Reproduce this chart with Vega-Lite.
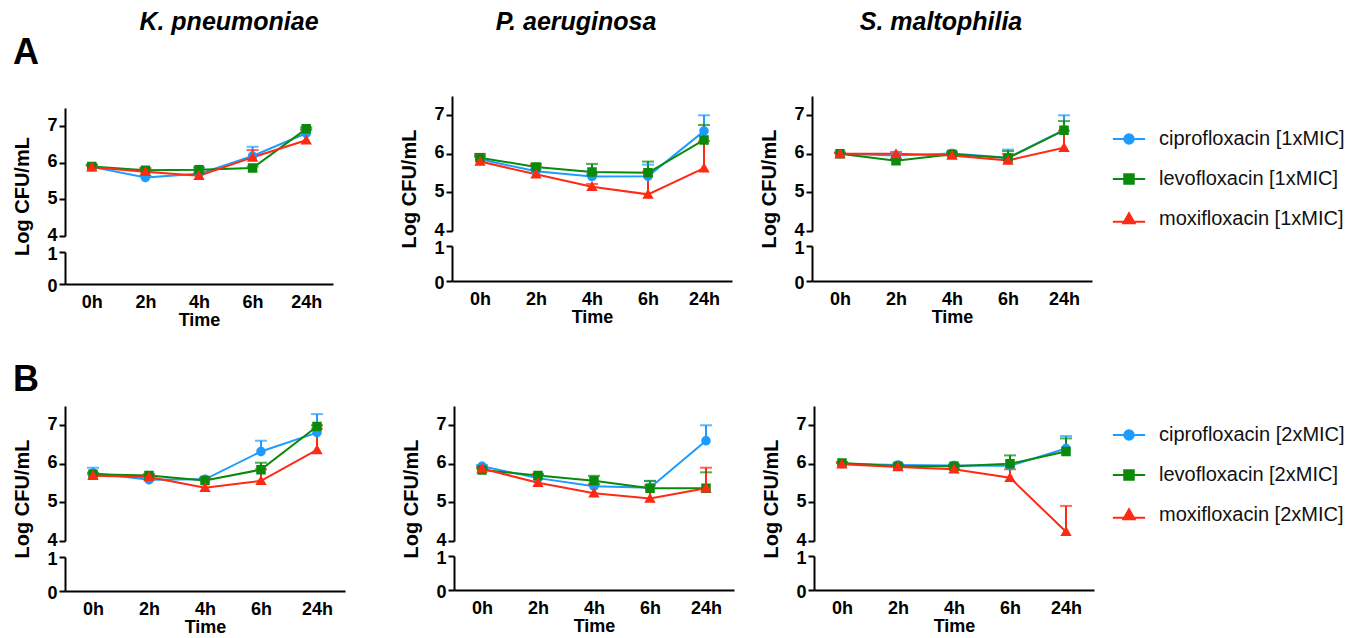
{
"$schema": "https://vega.github.io/schema/vega-lite/v6.json",
"padding": {"left": 12, "top": 10, "right": 0, "bottom": 0},
"background": "white",
"datasets": {"d": [
{"r":"A","org":"K","time":"0h","drug":"ciprofloxacin [1xMIC]","mean":5.89,"hi":5.95},
{"r":"A","org":"K","time":"2h","drug":"ciprofloxacin [1xMIC]","mean":5.60,"hi":5.65},
{"r":"A","org":"K","time":"4h","drug":"ciprofloxacin [1xMIC]","mean":5.70,"hi":5.76},
{"r":"A","org":"K","time":"6h","drug":"ciprofloxacin [1xMIC]","mean":6.19,"hi":6.44},
{"r":"A","org":"K","time":"24h","drug":"ciprofloxacin [1xMIC]","mean":6.81,"hi":6.92},
{"r":"A","org":"K","time":"0h","drug":"levofloxacin [1xMIC]","mean":5.90,"hi":5.95},
{"r":"A","org":"K","time":"2h","drug":"levofloxacin [1xMIC]","mean":5.80,"hi":5.86},
{"r":"A","org":"K","time":"4h","drug":"levofloxacin [1xMIC]","mean":5.81,"hi":5.87},
{"r":"A","org":"K","time":"6h","drug":"levofloxacin [1xMIC]","mean":5.86,"hi":5.90},
{"r":"A","org":"K","time":"24h","drug":"levofloxacin [1xMIC]","mean":6.93,"hi":6.97},
{"r":"A","org":"K","time":"0h","drug":"moxifloxacin [1xMIC]","mean":5.88,"hi":5.92},
{"r":"A","org":"K","time":"2h","drug":"moxifloxacin [1xMIC]","mean":5.76,"hi":5.82},
{"r":"A","org":"K","time":"4h","drug":"moxifloxacin [1xMIC]","mean":5.65,"hi":5.70},
{"r":"A","org":"K","time":"6h","drug":"moxifloxacin [1xMIC]","mean":6.15,"hi":6.35},
{"r":"A","org":"K","time":"24h","drug":"moxifloxacin [1xMIC]","mean":6.62,"hi":6.90},
{"r":"A","org":"P","time":"0h","drug":"ciprofloxacin [1xMIC]","mean":5.86,"hi":5.92},
{"r":"A","org":"P","time":"2h","drug":"ciprofloxacin [1xMIC]","mean":5.55,"hi":5.62},
{"r":"A","org":"P","time":"4h","drug":"ciprofloxacin [1xMIC]","mean":5.41,"hi":5.48},
{"r":"A","org":"P","time":"6h","drug":"ciprofloxacin [1xMIC]","mean":5.42,"hi":5.72},
{"r":"A","org":"P","time":"24h","drug":"ciprofloxacin [1xMIC]","mean":6.59,"hi":7.00},
{"r":"A","org":"P","time":"0h","drug":"levofloxacin [1xMIC]","mean":5.90,"hi":5.95},
{"r":"A","org":"P","time":"2h","drug":"levofloxacin [1xMIC]","mean":5.66,"hi":5.74},
{"r":"A","org":"P","time":"4h","drug":"levofloxacin [1xMIC]","mean":5.53,"hi":5.74},
{"r":"A","org":"P","time":"6h","drug":"levofloxacin [1xMIC]","mean":5.51,"hi":5.80},
{"r":"A","org":"P","time":"24h","drug":"levofloxacin [1xMIC]","mean":6.36,"hi":6.75},
{"r":"A","org":"P","time":"0h","drug":"moxifloxacin [1xMIC]","mean":5.80,"hi":6.00},
{"r":"A","org":"P","time":"2h","drug":"moxifloxacin [1xMIC]","mean":5.47,"hi":5.70},
{"r":"A","org":"P","time":"4h","drug":"moxifloxacin [1xMIC]","mean":5.15,"hi":5.22},
{"r":"A","org":"P","time":"6h","drug":"moxifloxacin [1xMIC]","mean":4.95,"hi":5.54},
{"r":"A","org":"P","time":"24h","drug":"moxifloxacin [1xMIC]","mean":5.63,"hi":6.33},
{"r":"A","org":"S","time":"0h","drug":"ciprofloxacin [1xMIC]","mean":6.00,"hi":6.03},
{"r":"A","org":"S","time":"2h","drug":"ciprofloxacin [1xMIC]","mean":5.96,"hi":6.00},
{"r":"A","org":"S","time":"4h","drug":"ciprofloxacin [1xMIC]","mean":6.01,"hi":6.06},
{"r":"A","org":"S","time":"6h","drug":"ciprofloxacin [1xMIC]","mean":5.90,"hi":6.11},
{"r":"A","org":"S","time":"24h","drug":"ciprofloxacin [1xMIC]","mean":6.62,"hi":7.00},
{"r":"A","org":"S","time":"0h","drug":"levofloxacin [1xMIC]","mean":6.00,"hi":6.03},
{"r":"A","org":"S","time":"2h","drug":"levofloxacin [1xMIC]","mean":5.82,"hi":5.87},
{"r":"A","org":"S","time":"4h","drug":"levofloxacin [1xMIC]","mean":5.99,"hi":6.03},
{"r":"A","org":"S","time":"6h","drug":"levofloxacin [1xMIC]","mean":5.89,"hi":6.07},
{"r":"A","org":"S","time":"24h","drug":"levofloxacin [1xMIC]","mean":6.61,"hi":6.85},
{"r":"A","org":"S","time":"0h","drug":"moxifloxacin [1xMIC]","mean":6.00,"hi":6.03},
{"r":"A","org":"S","time":"2h","drug":"moxifloxacin [1xMIC]","mean":6.00,"hi":6.05},
{"r":"A","org":"S","time":"4h","drug":"moxifloxacin [1xMIC]","mean":5.96,"hi":6.00},
{"r":"A","org":"S","time":"6h","drug":"moxifloxacin [1xMIC]","mean":5.83,"hi":5.99},
{"r":"A","org":"S","time":"24h","drug":"moxifloxacin [1xMIC]","mean":6.16,"hi":6.60},
{"r":"B","org":"K","time":"0h","drug":"ciprofloxacin [2xMIC]","mean":5.76,"hi":5.90},
{"r":"B","org":"K","time":"2h","drug":"ciprofloxacin [2xMIC]","mean":5.59,"hi":5.64},
{"r":"B","org":"K","time":"4h","drug":"ciprofloxacin [2xMIC]","mean":5.60,"hi":5.64},
{"r":"B","org":"K","time":"6h","drug":"ciprofloxacin [2xMIC]","mean":6.32,"hi":6.60},
{"r":"B","org":"K","time":"24h","drug":"ciprofloxacin [2xMIC]","mean":6.81,"hi":7.29},
{"r":"B","org":"K","time":"0h","drug":"levofloxacin [2xMIC]","mean":5.73,"hi":5.77},
{"r":"B","org":"K","time":"2h","drug":"levofloxacin [2xMIC]","mean":5.70,"hi":5.74},
{"r":"B","org":"K","time":"4h","drug":"levofloxacin [2xMIC]","mean":5.57,"hi":5.61},
{"r":"B","org":"K","time":"6h","drug":"levofloxacin [2xMIC]","mean":5.85,"hi":6.03},
{"r":"B","org":"K","time":"24h","drug":"levofloxacin [2xMIC]","mean":6.97,"hi":7.00},
{"r":"B","org":"K","time":"0h","drug":"moxifloxacin [2xMIC]","mean":5.69,"hi":5.73},
{"r":"B","org":"K","time":"2h","drug":"moxifloxacin [2xMIC]","mean":5.66,"hi":5.70},
{"r":"B","org":"K","time":"4h","drug":"moxifloxacin [2xMIC]","mean":5.38,"hi":5.62},
{"r":"B","org":"K","time":"6h","drug":"moxifloxacin [2xMIC]","mean":5.56,"hi":5.86},
{"r":"B","org":"K","time":"24h","drug":"moxifloxacin [2xMIC]","mean":6.36,"hi":6.91},
{"r":"B","org":"P","time":"0h","drug":"ciprofloxacin [2xMIC]","mean":5.94,"hi":5.97},
{"r":"B","org":"P","time":"2h","drug":"ciprofloxacin [2xMIC]","mean":5.63,"hi":5.68},
{"r":"B","org":"P","time":"4h","drug":"ciprofloxacin [2xMIC]","mean":5.42,"hi":5.47},
{"r":"B","org":"P","time":"6h","drug":"ciprofloxacin [2xMIC]","mean":5.38,"hi":5.55},
{"r":"B","org":"P","time":"24h","drug":"ciprofloxacin [2xMIC]","mean":6.60,"hi":7.00},
{"r":"B","org":"P","time":"0h","drug":"levofloxacin [2xMIC]","mean":5.84,"hi":5.88},
{"r":"B","org":"P","time":"2h","drug":"levofloxacin [2xMIC]","mean":5.70,"hi":5.74},
{"r":"B","org":"P","time":"4h","drug":"levofloxacin [2xMIC]","mean":5.56,"hi":5.69},
{"r":"B","org":"P","time":"6h","drug":"levofloxacin [2xMIC]","mean":5.37,"hi":5.56},
{"r":"B","org":"P","time":"24h","drug":"levofloxacin [2xMIC]","mean":5.37,"hi":5.78},
{"r":"B","org":"P","time":"0h","drug":"moxifloxacin [2xMIC]","mean":5.88,"hi":5.92},
{"r":"B","org":"P","time":"2h","drug":"moxifloxacin [2xMIC]","mean":5.51,"hi":5.72},
{"r":"B","org":"P","time":"4h","drug":"moxifloxacin [2xMIC]","mean":5.24,"hi":5.47},
{"r":"B","org":"P","time":"6h","drug":"moxifloxacin [2xMIC]","mean":5.10,"hi":5.44},
{"r":"B","org":"P","time":"24h","drug":"moxifloxacin [2xMIC]","mean":5.37,"hi":5.90},
{"r":"B","org":"S","time":"0h","drug":"ciprofloxacin [2xMIC]","mean":6.00,"hi":6.03},
{"r":"B","org":"S","time":"2h","drug":"ciprofloxacin [2xMIC]","mean":5.97,"hi":6.00},
{"r":"B","org":"S","time":"4h","drug":"ciprofloxacin [2xMIC]","mean":5.96,"hi":5.99},
{"r":"B","org":"S","time":"6h","drug":"ciprofloxacin [2xMIC]","mean":5.95,"hi":5.99},
{"r":"B","org":"S","time":"24h","drug":"ciprofloxacin [2xMIC]","mean":6.40,"hi":6.72},
{"r":"B","org":"S","time":"0h","drug":"levofloxacin [2xMIC]","mean":6.02,"hi":6.05},
{"r":"B","org":"S","time":"2h","drug":"levofloxacin [2xMIC]","mean":5.94,"hi":5.97},
{"r":"B","org":"S","time":"4h","drug":"levofloxacin [2xMIC]","mean":5.94,"hi":5.97},
{"r":"B","org":"S","time":"6h","drug":"levofloxacin [2xMIC]","mean":6.00,"hi":6.22},
{"r":"B","org":"S","time":"24h","drug":"levofloxacin [2xMIC]","mean":6.32,"hi":6.66},
{"r":"B","org":"S","time":"0h","drug":"moxifloxacin [2xMIC]","mean":5.99,"hi":6.02},
{"r":"B","org":"S","time":"2h","drug":"moxifloxacin [2xMIC]","mean":5.92,"hi":5.95},
{"r":"B","org":"S","time":"4h","drug":"moxifloxacin [2xMIC]","mean":5.86,"hi":5.89},
{"r":"B","org":"S","time":"6h","drug":"moxifloxacin [2xMIC]","mean":5.64,"hi":5.86},
{"r":"B","org":"S","time":"24h","drug":"moxifloxacin [2xMIC]","mean":4.24,"hi":4.91}
]},
"data": {"name": "d"},
"config": {
  "font": "Liberation Sans",
  "view": {"stroke": null},
  "axis": {"domainColor": "#000", "domainWidth": 2, "tickColor": "#000", "tickWidth": 2, "tickSize": 6, "labelColor": "#000", "labelFont": "Liberation Sans", "labelFontSize": 18, "labelFontWeight": "bold", "titleColor": "#000", "titleFont": "Liberation Sans", "titleFontSize": 20, "titleFontWeight": "bold", "grid": false},
  "axisX": {"ticks": false, "labelPadding": 9, "titleFontSize": 18, "titlePadding": 0, "labelAngle": 0},
  "axisY": {"titlePadding": 14, "labelPadding": 2},
  "title": {"font": "Liberation Sans", "color": "#000"}
},
"resolve": {"scale": {"fill": "independent", "stroke": "independent", "shape": "independent"}, "legend": {"fill": "independent", "stroke": "independent", "shape": "independent"}},
"spacing": 33,
"vconcat": [
{
 "title": {"text": "A", "anchor": "start", "frame": "bounds", "fontSize": 36, "fontWeight": "bold", "offset": 0, "dy": 62},
 "spacing": 66,
 "hconcat": [
  {
   "title": {"text": "K. pneumoniae", "fontSize": 25, "fontStyle": "italic", "fontWeight": "bold", "anchor": "middle", "frame": "bounds", "dx": 56, "offset": 61},
   "bounds": "flush", "spacing": 11,
   "vconcat": [
    {"width": 268, "height": 1, "transform": [{"filter": "false"}], "mark": {"type": "point"}, "encoding": {}},
    {
     "bounds": "flush", "spacing": 16,
     "vconcat": [
      {"width": 268, "height": 128,
       "transform": [{"filter": "datum.r == 'A' && datum.org == 'K'"}],
       "encoding": {
         "x": {"field": "time", "type": "ordinal", "scale": {"type": "point", "domain": ["0h","2h","4h","6h","24h"], "padding": 0.5}, "axis": null},
         "y": {"field": "mean", "type": "quantitative", "title": "Log CFU/mL", "scale": {"domain": [4, 7.5], "nice": false, "zero": false}, "axis": {"values": [4,5,6,7], "format": "d", "labelOffset": -1, "titleY": 88}}
       },
       "layer": [
         {"transform": [{"filter": "false"}], "mark": {"type": "point", "filled": true, "size": 90, "opacity": 1, "strokeWidth": 2},
          "encoding": {
            "fill": {"field": "drug", "type": "nominal", "scale": {"domain": ["ciprofloxacin [1xMIC]","levofloxacin [1xMIC]","moxifloxacin [1xMIC]"], "range": ["#1E9BFF","#0A8A0A","#FF2A14"]}, "legend": {"title": null, "orient": "none", "legendX": 1054, "legendY": 33, "padding": 0, "labelFontSize": 20, "labelFont": "Liberation Sans", "labelColor": "#111", "labelLimit": 400, "symbolSize": 90, "symbolStrokeWidth": 2, "rowPadding": 20, "labelOffset": 20}},
            "stroke": {"field": "drug", "type": "nominal", "scale": {"domain": ["ciprofloxacin [1xMIC]","levofloxacin [1xMIC]","moxifloxacin [1xMIC]"], "range": ["#1E9BFF","#0A8A0A","#FF2A14"]}, "legend": {"title": null, "orient": "none", "legendX": 1054, "legendY": 33, "padding": 0, "labelFontSize": 20, "labelFont": "Liberation Sans", "labelColor": "#111", "labelLimit": 400, "symbolSize": 90, "symbolStrokeWidth": 2, "rowPadding": 20, "labelOffset": 20}},
            "shape": {"field": "drug", "type": "nominal", "scale": {"domain": ["ciprofloxacin [1xMIC]","levofloxacin [1xMIC]","moxifloxacin [1xMIC]"], "range": ["M-3.4,0H3.4M1,0A1,1,0,1,1,-1,0A1,1,0,1,1,1,0Z","M-3.4,0H3.4M-1,-1H1V1H-1Z","M-3.4,0.6H3.4M0,-1.2L1.2,0.9L-1.2,0.9Z"]}, "legend": {"title": null, "orient": "none", "legendX": 1054, "legendY": 33, "padding": 0, "labelFontSize": 20, "labelFont": "Liberation Sans", "labelColor": "#111", "labelLimit": 400, "symbolSize": 90, "symbolStrokeWidth": 2, "rowPadding": 20, "labelOffset": 20}}
          }},
         {"mark": {"type": "line", "strokeWidth": 2}, "encoding": {"stroke": {"field": "drug", "type": "nominal", "scale": {"domain": ["ciprofloxacin [1xMIC]","levofloxacin [1xMIC]","moxifloxacin [1xMIC]"], "range": ["#1E9BFF","#0A8A0A","#FF2A14"]}}}},
         {"mark": {"type": "rule", "strokeWidth": 2}, "encoding": {"y2": {"field": "hi"}, "stroke": {"field": "drug", "type": "nominal", "scale": {"domain": ["ciprofloxacin [1xMIC]","levofloxacin [1xMIC]","moxifloxacin [1xMIC]"], "range": ["#1E9BFF","#0A8A0A","#FF2A14"]}}}},
         {"mark": {"type": "tick", "thickness": 2, "size": 12}, "encoding": {"y": {"field": "hi", "type": "quantitative", "title": "Log CFU/mL", "scale": {"domain": [4, 7.5], "nice": false, "zero": false}, "axis": {"values": [4,5,6,7], "format": "d", "labelOffset": -1, "titleY": 88}}, "fill": {"field": "drug", "type": "nominal", "scale": {"domain": ["ciprofloxacin [1xMIC]","levofloxacin [1xMIC]","moxifloxacin [1xMIC]"], "range": ["#1E9BFF","#0A8A0A","#FF2A14"]}}}},
         {"mark": {"type": "point", "filled": true, "size": 90, "opacity": 1, "strokeWidth": 0}, "encoding": {"fill": {"field": "drug", "type": "nominal", "scale": {"domain": ["ciprofloxacin [1xMIC]","levofloxacin [1xMIC]","moxifloxacin [1xMIC]"], "range": ["#1E9BFF","#0A8A0A","#FF2A14"]}}, "shape": {"field": "drug", "type": "nominal", "scale": {"domain": ["ciprofloxacin [1xMIC]","levofloxacin [1xMIC]","moxifloxacin [1xMIC]"], "range": ["M-3.4,0H3.4M1,0A1,1,0,1,1,-1,0A1,1,0,1,1,1,0Z","M-3.4,0H3.4M-1,-1H1V1H-1Z","M-3.4,0.6H3.4M0,-1.2L1.2,0.9L-1.2,0.9Z"]}}}}
       ]},
      {"width": 268, "height": 32,
       "transform": [{"filter": "datum.r == 'A' && datum.org == 'K'"}],
       "mark": {"type": "line", "clip": true, "strokeWidth": 0},
       "encoding": {
         "x": {"field": "time", "type": "ordinal", "title": "Time", "scale": {"type": "point", "domain": ["0h","2h","4h","6h","24h"], "padding": 0.5}},
         "y": {"field": "mean", "type": "quantitative", "title": null, "scale": {"domain": [0, 1], "nice": false, "zero": false}, "axis": {"values": [0, 1], "format": "d", "labelOffset": 2}},
         "detail": {"field": "drug"}
       }}
     ]
    }
   ]
  },
  {
   "spacing": 27,
   "hconcat": [
    {
     "title": {"text": "P. aeruginosa", "fontSize": 25, "fontStyle": "italic", "fontWeight": "bold", "anchor": "middle", "frame": "bounds", "dx": 10, "offset": 61},
     "bounds": "flush", "spacing": 15,
     "vconcat": [
      {"width": 280, "height": 135,
       "transform": [{"filter": "datum.r == 'A' && datum.org == 'P'"}],
       "encoding": {
         "x": {"field": "time", "type": "ordinal", "scale": {"type": "point", "domain": ["0h","2h","4h","6h","24h"], "padding": 0.5}, "axis": null},
         "y": {"field": "mean", "type": "quantitative", "title": "Log CFU/mL", "scale": {"domain": [4, 7.5], "nice": false, "zero": false}, "axis": {"values": [4,5,6,7], "format": "d", "labelOffset": -1, "titleY": 92.5}}
       },
       "layer": [
         {"mark": {"type": "line", "strokeWidth": 2}, "encoding": {"stroke": {"field": "drug", "type": "nominal", "scale": {"domain": ["ciprofloxacin [1xMIC]","levofloxacin [1xMIC]","moxifloxacin [1xMIC]"], "range": ["#1E9BFF","#0A8A0A","#FF2A14"]}}}},
         {"mark": {"type": "rule", "strokeWidth": 2}, "encoding": {"y2": {"field": "hi"}, "stroke": {"field": "drug", "type": "nominal", "scale": {"domain": ["ciprofloxacin [1xMIC]","levofloxacin [1xMIC]","moxifloxacin [1xMIC]"], "range": ["#1E9BFF","#0A8A0A","#FF2A14"]}}}},
         {"mark": {"type": "tick", "thickness": 2, "size": 12}, "encoding": {"y": {"field": "hi", "type": "quantitative", "title": "Log CFU/mL", "scale": {"domain": [4, 7.5], "nice": false, "zero": false}, "axis": {"values": [4,5,6,7], "format": "d", "labelOffset": -1, "titleY": 92.5}}, "fill": {"field": "drug", "type": "nominal", "scale": {"domain": ["ciprofloxacin [1xMIC]","levofloxacin [1xMIC]","moxifloxacin [1xMIC]"], "range": ["#1E9BFF","#0A8A0A","#FF2A14"]}}}},
         {"mark": {"type": "point", "filled": true, "size": 90, "opacity": 1, "strokeWidth": 0}, "encoding": {"fill": {"field": "drug", "type": "nominal", "scale": {"domain": ["ciprofloxacin [1xMIC]","levofloxacin [1xMIC]","moxifloxacin [1xMIC]"], "range": ["#1E9BFF","#0A8A0A","#FF2A14"]}}, "shape": {"field": "drug", "type": "nominal", "scale": {"domain": ["ciprofloxacin [1xMIC]","levofloxacin [1xMIC]","moxifloxacin [1xMIC]"], "range": ["M-3.4,0H3.4M1,0A1,1,0,1,1,-1,0A1,1,0,1,1,1,0Z","M-3.4,0H3.4M-1,-1H1V1H-1Z","M-3.4,0.6H3.4M0,-1.2L1.2,0.9L-1.2,0.9Z"]}}}}
       ]},
      {"width": 280, "height": 35,
       "transform": [{"filter": "datum.r == 'A' && datum.org == 'P'"}],
       "mark": {"type": "line", "clip": true, "strokeWidth": 0},
       "encoding": {
         "x": {"field": "time", "type": "ordinal", "title": "Time", "scale": {"type": "point", "domain": ["0h","2h","4h","6h","24h"], "padding": 0.5}},
         "y": {"field": "mean", "type": "quantitative", "title": null, "scale": {"domain": [0, 1], "nice": false, "zero": false}, "axis": {"values": [0, 1], "format": "d", "labelOffset": 2}},
         "detail": {"field": "drug"}
       }}
     ]
    },
    {
     "title": {"text": "S. maltophilia", "fontSize": 25, "fontStyle": "italic", "fontWeight": "bold", "anchor": "middle", "frame": "bounds", "dx": 15, "offset": 61},
     "bounds": "flush", "spacing": 15,
     "vconcat": [
      {"width": 280, "height": 135,
       "transform": [{"filter": "datum.r == 'A' && datum.org == 'S'"}],
       "encoding": {
         "x": {"field": "time", "type": "ordinal", "scale": {"type": "point", "domain": ["0h","2h","4h","6h","24h"], "padding": 0.5}, "axis": null},
         "y": {"field": "mean", "type": "quantitative", "title": "Log CFU/mL", "scale": {"domain": [4, 7.5], "nice": false, "zero": false}, "axis": {"values": [4,5,6,7], "format": "d", "labelOffset": -1, "titleY": 92.5}}
       },
       "layer": [
         {"mark": {"type": "line", "strokeWidth": 2}, "encoding": {"stroke": {"field": "drug", "type": "nominal", "scale": {"domain": ["ciprofloxacin [1xMIC]","levofloxacin [1xMIC]","moxifloxacin [1xMIC]"], "range": ["#1E9BFF","#0A8A0A","#FF2A14"]}}}},
         {"mark": {"type": "rule", "strokeWidth": 2}, "encoding": {"y2": {"field": "hi"}, "stroke": {"field": "drug", "type": "nominal", "scale": {"domain": ["ciprofloxacin [1xMIC]","levofloxacin [1xMIC]","moxifloxacin [1xMIC]"], "range": ["#1E9BFF","#0A8A0A","#FF2A14"]}}}},
         {"mark": {"type": "tick", "thickness": 2, "size": 12}, "encoding": {"y": {"field": "hi", "type": "quantitative", "title": "Log CFU/mL", "scale": {"domain": [4, 7.5], "nice": false, "zero": false}, "axis": {"values": [4,5,6,7], "format": "d", "labelOffset": -1, "titleY": 92.5}}, "fill": {"field": "drug", "type": "nominal", "scale": {"domain": ["ciprofloxacin [1xMIC]","levofloxacin [1xMIC]","moxifloxacin [1xMIC]"], "range": ["#1E9BFF","#0A8A0A","#FF2A14"]}}}},
         {"mark": {"type": "point", "filled": true, "size": 90, "opacity": 1, "strokeWidth": 0}, "encoding": {"fill": {"field": "drug", "type": "nominal", "scale": {"domain": ["ciprofloxacin [1xMIC]","levofloxacin [1xMIC]","moxifloxacin [1xMIC]"], "range": ["#1E9BFF","#0A8A0A","#FF2A14"]}}, "shape": {"field": "drug", "type": "nominal", "scale": {"domain": ["ciprofloxacin [1xMIC]","levofloxacin [1xMIC]","moxifloxacin [1xMIC]"], "range": ["M-3.4,0H3.4M1,0A1,1,0,1,1,-1,0A1,1,0,1,1,1,0Z","M-3.4,0H3.4M-1,-1H1V1H-1Z","M-3.4,0.6H3.4M0,-1.2L1.2,0.9L-1.2,0.9Z"]}}}}
       ]},
      {"width": 280, "height": 35,
       "transform": [{"filter": "datum.r == 'A' && datum.org == 'S'"}],
       "mark": {"type": "line", "clip": true, "strokeWidth": 0},
       "encoding": {
         "x": {"field": "time", "type": "ordinal", "title": "Time", "scale": {"type": "point", "domain": ["0h","2h","4h","6h","24h"], "padding": 0.5}},
         "y": {"field": "mean", "type": "quantitative", "title": null, "scale": {"domain": [0, 1], "nice": false, "zero": false}, "axis": {"values": [0, 1], "format": "d", "labelOffset": 2}},
         "detail": {"field": "drug"}
       }}
     ]
    }
   ]
  }
 ]
},
{
 "title": {"text": "B", "anchor": "start", "frame": "bounds", "fontSize": 36, "fontWeight": "bold", "offset": 7},
 "spacing": 56,
 "hconcat": [
  {
   "bounds": "flush", "spacing": 16,
   "vconcat": [
    {"width": 280, "height": 135,
     "transform": [{"filter": "datum.r == 'B' && datum.org == 'K'"}],
     "encoding": {
       "x": {"field": "time", "type": "ordinal", "scale": {"type": "point", "domain": ["0h","2h","4h","6h","24h"], "padding": 0.5}, "axis": null},
       "y": {"field": "mean", "type": "quantitative", "title": "Log CFU/mL", "scale": {"domain": [4, 7.5], "nice": false, "zero": false}, "axis": {"values": [4,5,6,7], "format": "d", "labelOffset": -1, "titleY": 92.5}}
     },
     "layer": [
       {"transform": [{"filter": "false"}], "mark": {"type": "point", "filled": true, "size": 90, "opacity": 1, "strokeWidth": 2},
        "encoding": {
          "fill": {"field": "drug", "type": "nominal", "scale": {"domain": ["ciprofloxacin [2xMIC]","levofloxacin [2xMIC]","moxifloxacin [2xMIC]"], "range": ["#1E9BFF","#0A8A0A","#FF2A14"]}, "legend": {"title": null, "orient": "none", "legendX": 1054, "legendY": 19, "padding": 0, "labelFontSize": 20, "labelFont": "Liberation Sans", "labelColor": "#111", "labelLimit": 400, "symbolSize": 90, "symbolStrokeWidth": 2, "rowPadding": 20, "labelOffset": 20}},
          "stroke": {"field": "drug", "type": "nominal", "scale": {"domain": ["ciprofloxacin [2xMIC]","levofloxacin [2xMIC]","moxifloxacin [2xMIC]"], "range": ["#1E9BFF","#0A8A0A","#FF2A14"]}, "legend": {"title": null, "orient": "none", "legendX": 1054, "legendY": 19, "padding": 0, "labelFontSize": 20, "labelFont": "Liberation Sans", "labelColor": "#111", "labelLimit": 400, "symbolSize": 90, "symbolStrokeWidth": 2, "rowPadding": 20, "labelOffset": 20}},
          "shape": {"field": "drug", "type": "nominal", "scale": {"domain": ["ciprofloxacin [2xMIC]","levofloxacin [2xMIC]","moxifloxacin [2xMIC]"], "range": ["M-3.4,0H3.4M1,0A1,1,0,1,1,-1,0A1,1,0,1,1,1,0Z","M-3.4,0H3.4M-1,-1H1V1H-1Z","M-3.4,0.6H3.4M0,-1.2L1.2,0.9L-1.2,0.9Z"]}, "legend": {"title": null, "orient": "none", "legendX": 1054, "legendY": 19, "padding": 0, "labelFontSize": 20, "labelFont": "Liberation Sans", "labelColor": "#111", "labelLimit": 400, "symbolSize": 90, "symbolStrokeWidth": 2, "rowPadding": 20, "labelOffset": 20}}
        }},
       {"mark": {"type": "line", "strokeWidth": 2}, "encoding": {"stroke": {"field": "drug", "type": "nominal", "scale": {"domain": ["ciprofloxacin [2xMIC]","levofloxacin [2xMIC]","moxifloxacin [2xMIC]"], "range": ["#1E9BFF","#0A8A0A","#FF2A14"]}}}},
       {"mark": {"type": "rule", "strokeWidth": 2}, "encoding": {"y2": {"field": "hi"}, "stroke": {"field": "drug", "type": "nominal", "scale": {"domain": ["ciprofloxacin [2xMIC]","levofloxacin [2xMIC]","moxifloxacin [2xMIC]"], "range": ["#1E9BFF","#0A8A0A","#FF2A14"]}}}},
       {"mark": {"type": "tick", "thickness": 2, "size": 12}, "encoding": {"y": {"field": "hi", "type": "quantitative", "title": "Log CFU/mL", "scale": {"domain": [4, 7.5], "nice": false, "zero": false}, "axis": {"values": [4,5,6,7], "format": "d", "labelOffset": -1, "titleY": 92.5}}, "fill": {"field": "drug", "type": "nominal", "scale": {"domain": ["ciprofloxacin [2xMIC]","levofloxacin [2xMIC]","moxifloxacin [2xMIC]"], "range": ["#1E9BFF","#0A8A0A","#FF2A14"]}}}},
       {"mark": {"type": "point", "filled": true, "size": 90, "opacity": 1, "strokeWidth": 0}, "encoding": {"fill": {"field": "drug", "type": "nominal", "scale": {"domain": ["ciprofloxacin [2xMIC]","levofloxacin [2xMIC]","moxifloxacin [2xMIC]"], "range": ["#1E9BFF","#0A8A0A","#FF2A14"]}}, "shape": {"field": "drug", "type": "nominal", "scale": {"domain": ["ciprofloxacin [2xMIC]","levofloxacin [2xMIC]","moxifloxacin [2xMIC]"], "range": ["M-3.4,0H3.4M1,0A1,1,0,1,1,-1,0A1,1,0,1,1,1,0Z","M-3.4,0H3.4M-1,-1H1V1H-1Z","M-3.4,0.6H3.4M0,-1.2L1.2,0.9L-1.2,0.9Z"]}}}}
     ]},
    {"width": 280, "height": 34,
     "transform": [{"filter": "datum.r == 'B' && datum.org == 'K'"}],
     "mark": {"type": "line", "clip": true, "strokeWidth": 0},
     "encoding": {
       "x": {"field": "time", "type": "ordinal", "title": "Time", "scale": {"type": "point", "domain": ["0h","2h","4h","6h","24h"], "padding": 0.5}},
       "y": {"field": "mean", "type": "quantitative", "title": null, "scale": {"domain": [0, 1], "nice": false, "zero": false}, "axis": {"values": [0, 1], "format": "d", "labelOffset": 2}},
       "detail": {"field": "drug"}
     }}
   ]
  },
  {
   "spacing": 27,
   "hconcat": [
    {
     "bounds": "flush", "spacing": 15,
     "vconcat": [
      {"width": 280, "height": 135,
       "transform": [{"filter": "datum.r == 'B' && datum.org == 'P'"}],
       "encoding": {
         "x": {"field": "time", "type": "ordinal", "scale": {"type": "point", "domain": ["0h","2h","4h","6h","24h"], "padding": 0.5}, "axis": null},
         "y": {"field": "mean", "type": "quantitative", "title": "Log CFU/mL", "scale": {"domain": [4, 7.5], "nice": false, "zero": false}, "axis": {"values": [4,5,6,7], "format": "d", "labelOffset": -1, "titleY": 92.5}}
       },
       "layer": [
         {"mark": {"type": "line", "strokeWidth": 2}, "encoding": {"stroke": {"field": "drug", "type": "nominal", "scale": {"domain": ["ciprofloxacin [2xMIC]","levofloxacin [2xMIC]","moxifloxacin [2xMIC]"], "range": ["#1E9BFF","#0A8A0A","#FF2A14"]}}}},
         {"mark": {"type": "rule", "strokeWidth": 2}, "encoding": {"y2": {"field": "hi"}, "stroke": {"field": "drug", "type": "nominal", "scale": {"domain": ["ciprofloxacin [2xMIC]","levofloxacin [2xMIC]","moxifloxacin [2xMIC]"], "range": ["#1E9BFF","#0A8A0A","#FF2A14"]}}}},
         {"mark": {"type": "tick", "thickness": 2, "size": 12}, "encoding": {"y": {"field": "hi", "type": "quantitative", "title": "Log CFU/mL", "scale": {"domain": [4, 7.5], "nice": false, "zero": false}, "axis": {"values": [4,5,6,7], "format": "d", "labelOffset": -1, "titleY": 92.5}}, "fill": {"field": "drug", "type": "nominal", "scale": {"domain": ["ciprofloxacin [2xMIC]","levofloxacin [2xMIC]","moxifloxacin [2xMIC]"], "range": ["#1E9BFF","#0A8A0A","#FF2A14"]}}}},
         {"mark": {"type": "point", "filled": true, "size": 90, "opacity": 1, "strokeWidth": 0}, "encoding": {"fill": {"field": "drug", "type": "nominal", "scale": {"domain": ["ciprofloxacin [2xMIC]","levofloxacin [2xMIC]","moxifloxacin [2xMIC]"], "range": ["#1E9BFF","#0A8A0A","#FF2A14"]}}, "shape": {"field": "drug", "type": "nominal", "scale": {"domain": ["ciprofloxacin [2xMIC]","levofloxacin [2xMIC]","moxifloxacin [2xMIC]"], "range": ["M-3.4,0H3.4M1,0A1,1,0,1,1,-1,0A1,1,0,1,1,1,0Z","M-3.4,0H3.4M-1,-1H1V1H-1Z","M-3.4,0.6H3.4M0,-1.2L1.2,0.9L-1.2,0.9Z"]}}}}
       ]},
      {"width": 280, "height": 34,
       "transform": [{"filter": "datum.r == 'B' && datum.org == 'P'"}],
       "mark": {"type": "line", "clip": true, "strokeWidth": 0},
       "encoding": {
         "x": {"field": "time", "type": "ordinal", "title": "Time", "scale": {"type": "point", "domain": ["0h","2h","4h","6h","24h"], "padding": 0.5}},
         "y": {"field": "mean", "type": "quantitative", "title": null, "scale": {"domain": [0, 1], "nice": false, "zero": false}, "axis": {"values": [0, 1], "format": "d", "labelOffset": 2}},
         "detail": {"field": "drug"}
       }}
     ]
    },
    {
     "bounds": "flush", "spacing": 15,
     "vconcat": [
      {"width": 280, "height": 135,
       "transform": [{"filter": "datum.r == 'B' && datum.org == 'S'"}],
       "encoding": {
         "x": {"field": "time", "type": "ordinal", "scale": {"type": "point", "domain": ["0h","2h","4h","6h","24h"], "padding": 0.5}, "axis": null},
         "y": {"field": "mean", "type": "quantitative", "title": "Log CFU/mL", "scale": {"domain": [4, 7.5], "nice": false, "zero": false}, "axis": {"values": [4,5,6,7], "format": "d", "labelOffset": -1, "titleY": 92.5}}
       },
       "layer": [
         {"mark": {"type": "line", "strokeWidth": 2}, "encoding": {"stroke": {"field": "drug", "type": "nominal", "scale": {"domain": ["ciprofloxacin [2xMIC]","levofloxacin [2xMIC]","moxifloxacin [2xMIC]"], "range": ["#1E9BFF","#0A8A0A","#FF2A14"]}}}},
         {"mark": {"type": "rule", "strokeWidth": 2}, "encoding": {"y2": {"field": "hi"}, "stroke": {"field": "drug", "type": "nominal", "scale": {"domain": ["ciprofloxacin [2xMIC]","levofloxacin [2xMIC]","moxifloxacin [2xMIC]"], "range": ["#1E9BFF","#0A8A0A","#FF2A14"]}}}},
         {"mark": {"type": "tick", "thickness": 2, "size": 12}, "encoding": {"y": {"field": "hi", "type": "quantitative", "title": "Log CFU/mL", "scale": {"domain": [4, 7.5], "nice": false, "zero": false}, "axis": {"values": [4,5,6,7], "format": "d", "labelOffset": -1, "titleY": 92.5}}, "fill": {"field": "drug", "type": "nominal", "scale": {"domain": ["ciprofloxacin [2xMIC]","levofloxacin [2xMIC]","moxifloxacin [2xMIC]"], "range": ["#1E9BFF","#0A8A0A","#FF2A14"]}}}},
         {"mark": {"type": "point", "filled": true, "size": 90, "opacity": 1, "strokeWidth": 0}, "encoding": {"fill": {"field": "drug", "type": "nominal", "scale": {"domain": ["ciprofloxacin [2xMIC]","levofloxacin [2xMIC]","moxifloxacin [2xMIC]"], "range": ["#1E9BFF","#0A8A0A","#FF2A14"]}}, "shape": {"field": "drug", "type": "nominal", "scale": {"domain": ["ciprofloxacin [2xMIC]","levofloxacin [2xMIC]","moxifloxacin [2xMIC]"], "range": ["M-3.4,0H3.4M1,0A1,1,0,1,1,-1,0A1,1,0,1,1,1,0Z","M-3.4,0H3.4M-1,-1H1V1H-1Z","M-3.4,0.6H3.4M0,-1.2L1.2,0.9L-1.2,0.9Z"]}}}}
       ]},
      {"width": 280, "height": 34,
       "transform": [{"filter": "datum.r == 'B' && datum.org == 'S'"}],
       "mark": {"type": "line", "clip": true, "strokeWidth": 0},
       "encoding": {
         "x": {"field": "time", "type": "ordinal", "title": "Time", "scale": {"type": "point", "domain": ["0h","2h","4h","6h","24h"], "padding": 0.5}},
         "y": {"field": "mean", "type": "quantitative", "title": null, "scale": {"domain": [0, 1], "nice": false, "zero": false}, "axis": {"values": [0, 1], "format": "d", "labelOffset": 2}},
         "detail": {"field": "drug"}
       }}
     ]
    }
   ]
  }
 ]
}
]
}
